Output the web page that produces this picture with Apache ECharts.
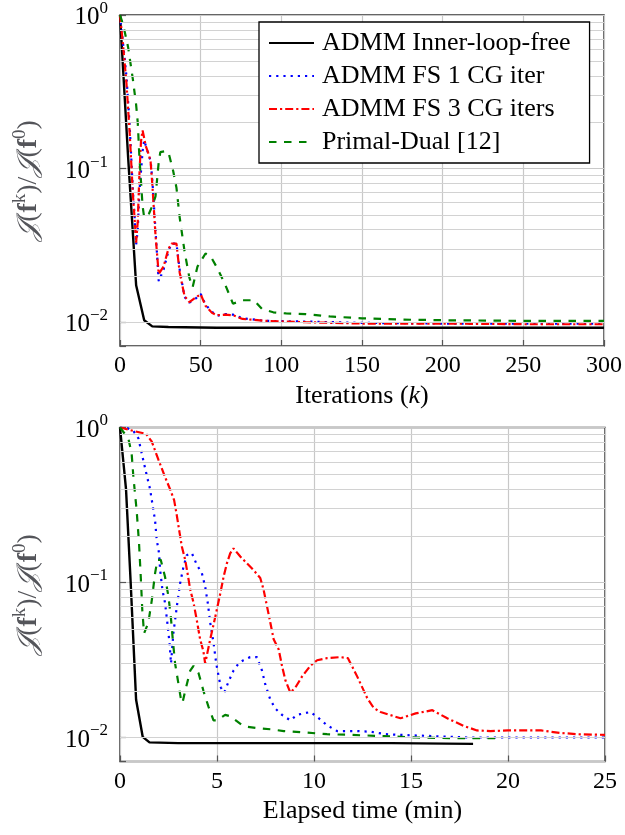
<!DOCTYPE html>
<html>
<head>
<meta charset="utf-8">
<script src="https://cdn.jsdelivr.net/npm/echarts@6/dist/echarts.min.js"></script>
<style>
  html, body { margin: 0; padding: 0; background: #fff; }
  #chart { width: 625px; height: 835px; }
</style>
</head>
<body>
<div id="chart"></div>
<script>
// series names
var names = ['ADMM Inner-loop-free', 'ADMM FS 1 CG iter', 'ADMM FS 3 CG iters', 'Primal-Dual [12]'];

// top: cost vs iterations (k)
var topInnerFree = [[0,1],[5,0.12],[10,0.0174],[15,0.0103],[20,0.0094],[30,0.0093],[60,0.0092],[100,0.0092],[150,0.0092],[200,0.0092],[250,0.0092],[300,0.0092]];
var topFs1 = [[0,1],[2,0.64],[4,0.4],[6,0.19],[8,0.071],[9,0.05],[10,0.032],[11,0.04],[12,0.07],[14,0.13],[15,0.153],[17,0.13],[19,0.112],[20,0.085],[22,0.04],[24,0.0185],[25,0.018],[27,0.022],[30,0.029],[32,0.0325],[35,0.0325],[37,0.022],[40,0.0146],[43,0.0134],[47,0.0143],[50,0.0153],[53,0.013],[57,0.0117],[60,0.011],[65,0.0113],[70,0.0112],[76,0.0106],[90,0.0102],[115,0.0101],[150,0.0099],[200,0.0098],[250,0.0098],[300,0.0098]];
var topFs3 = [[0,1],[2,0.62],[4,0.36],[6,0.17],[8,0.068],[9,0.048],[10,0.033],[11,0.045],[12,0.09],[13,0.15],[14,0.177],[16,0.14],[18,0.122],[19,0.11],[20,0.08],[22,0.037],[24,0.0206],[25,0.02],[27,0.023],[30,0.03],[32,0.0325],[35,0.0325],[37,0.021],[40,0.0148],[43,0.0135],[47,0.0145],[50,0.0152],[53,0.0128],[57,0.0115],[60,0.0111],[65,0.0112],[70,0.0111],[76,0.0105],[90,0.0102],[115,0.01],[150,0.0098],[200,0.0098],[250,0.0097],[300,0.0097]];
var topPd = [[0,1],[2,0.86],[5,0.62],[8,0.38],[10,0.26],[11,0.2],[12,0.12],[13,0.083],[14,0.057],[15,0.048],[18,0.051],[20,0.057],[22,0.066],[24,0.11],[25,0.128],[28,0.13],[30,0.128],[33,0.096],[35,0.075],[37,0.048],[40,0.029],[43,0.0195],[45,0.0169],[48,0.023],[53,0.028],[56,0.027],[60,0.0228],[65,0.0178],[70,0.0132],[76,0.0139],[83,0.0139],[88,0.0122],[95,0.0116],[103,0.0114],[115,0.0113],[130,0.0109],[150,0.0106],[175,0.0104],[200,0.0103],[250,0.0102],[300,0.0102]];

// bottom: cost vs elapsed time (min)
var botInnerFree = [[0,1],[0.31,0.4],[0.55,0.1],[0.83,0.0175],[1.17,0.0101],[1.52,0.0093],[3,0.0092],[6,0.0092],[10,0.0092],[14,0.0092],[18.2,0.0091]];
var botFs1 = [[0,1],[0.4,0.99],[0.69,0.95],[0.95,0.85],[1.12,0.68],[1.38,0.49],[1.55,0.4],[1.69,0.31],[1.81,0.25],[1.89,0.19],[2.01,0.155],[2.07,0.12],[2.19,0.089],[2.32,0.074],[2.44,0.055],[2.55,0.041],[2.63,0.03],[2.75,0.047],[2.93,0.07],[3.1,0.099],[3.27,0.126],[3.44,0.15],[3.7,0.155],[3.96,0.13],[4.22,0.115],[4.39,0.094],[4.53,0.073],[4.65,0.055],[4.82,0.041],[4.96,0.03],[5.08,0.025],[5.2,0.021],[5.37,0.0195],[5.6,0.023],[5.85,0.027],[6.11,0.03],[6.37,0.0316],[6.71,0.033],[7.06,0.033],[7.32,0.027],[7.49,0.022],[7.75,0.0175],[8.0,0.0154],[8.35,0.014],[8.78,0.0129],[9.13,0.014],[9.81,0.0146],[10.16,0.0136],[10.67,0.012],[11.19,0.011],[12.2,0.011],[12.9,0.0109],[13.7,0.0105],[14.4,0.0104],[15.3,0.0103],[16.2,0.0102],[17.9,0.01],[20,0.01],[25,0.01]];
var botFs3 = [[0,1],[0.69,0.95],[1.34,0.91],[1.64,0.81],[1.98,0.62],[2.32,0.48],[2.58,0.4],[2.79,0.34],[2.93,0.27],[3.07,0.21],[3.19,0.17],[3.36,0.14],[3.48,0.115],[3.62,0.09],[3.79,0.074],[3.96,0.057],[4.13,0.043],[4.3,0.036],[4.39,0.03],[4.65,0.043],[4.91,0.06],[5.17,0.085],[5.34,0.109],[5.51,0.133],[5.68,0.154],[5.85,0.166],[6.2,0.147],[6.54,0.133],[6.89,0.12],[7.23,0.107],[7.4,0.09],[7.58,0.07],[7.75,0.055],[7.92,0.043],[8.18,0.037],[8.35,0.029],[8.52,0.0235],[8.78,0.0195],[9.04,0.021],[9.38,0.0247],[9.81,0.029],[10.16,0.0315],[10.67,0.0325],[11.36,0.033],[11.75,0.0325],[12.23,0.0247],[12.74,0.018],[13.08,0.0155],[13.43,0.0146],[14.46,0.0133],[15.24,0.0143],[16.1,0.015],[16.87,0.0133],[17.7,0.0119],[18.4,0.0111],[19.1,0.011],[20,0.0111],[21,0.0111],[21.7,0.0111],[22.7,0.0107],[23.6,0.0105],[25,0.0104]];
var botPd = [[0,1],[0.43,0.85],[0.6,0.68],[0.69,0.48],[0.86,0.29],[0.98,0.18],[1.07,0.109],[1.15,0.066],[1.24,0.047],[1.46,0.055],[1.64,0.077],[1.81,0.115],[1.93,0.14],[2.1,0.14],[2.32,0.109],[2.5,0.081],[2.62,0.06],[2.72,0.043],[2.84,0.03],[2.98,0.0235],[3.13,0.018],[3.22,0.0167],[3.36,0.02],[3.62,0.027],[3.79,0.029],[4.05,0.026],[4.3,0.02],[4.56,0.0158],[4.82,0.0129],[5.0,0.0129],[5.42,0.014],[5.68,0.0137],[6.37,0.0118],[7.06,0.0115],[7.75,0.0113],[8.44,0.011],[9.47,0.0108],[10.67,0.0105],[11.88,0.0104],[13.6,0.0102],[15.3,0.01],[17,0.0099],[19.5,0.0099]];

// log-axis minor grid values (2..9 x 10^k)
var minorTicks = [0.008,0.009,0.02,0.03,0.04,0.05,0.06,0.07,0.08,0.09,0.2,0.3,0.4,0.5,0.6,0.7,0.8,0.9];

var serif = '"Liberation Serif", "DejaVu Serif", serif';
var colors = ['#000000', '#0000ff', '#ff0000', '#008000'];
var dashes = ['solid', [2.2, 5], [8, 3, 2.2, 3], [7.5, 7.5]];
var widths = [2.4, 2.2, 2.2, 2.2];

function logLabel(v) {
    var e = Math.round(Math.log10(v));
    if (Math.abs(Math.log10(v) - e) > 0.01) return '';
    return '{b|10}{s|' + (e === 0 ? '0' : '\u2212' + (-e)) + '}';
}

var yName = '{j|\uD835\uDCA5}{p|(}{f|f}{s|k}{p|)/}{j|\uD835\uDCA5}{p|(}{f|f}{s|0}{p|)}';
var yNameRich = {
    j: { fontFamily: serif, fontStyle: 'italic', fontSize: 28, lineHeight: 32, verticalAlign: 'bottom' },
    p: { fontFamily: serif, fontSize: 28, lineHeight: 32, verticalAlign: 'bottom' },
    f: { fontFamily: serif, fontWeight: 'bold', fontSize: 28, lineHeight: 32, verticalAlign: 'bottom' },
    s: { fontFamily: serif, fontSize: 19, lineHeight: 19, verticalAlign: 'top' }
};

function makeX(idx, max, step, nameRich) {
    return {
        gridIndex: idx, type: 'value', min: 0, max: max, interval: step,
        name: nameRich, nameLocation: 'middle', nameGap: 37,
        nameTextStyle: { fontFamily: serif, fontSize: 26, color: '#000',
            rich: { t: { fontFamily: serif, fontSize: 26 }, i: { fontFamily: serif, fontSize: 26, fontStyle: 'italic' } } },
        axisLine: { show: false },
        axisTick: { show: true, inside: true, length: 6, lineStyle: { color: '#555', width: 1.2 } },
        axisLabel: { fontFamily: serif, fontSize: 24, color: '#000', margin: 8 },
        splitLine: { show: true, lineStyle: { color: '#c8c8c8', width: 1.2 } }
    };
}

function makeY(idx) {
    return {
        gridIndex: idx, type: 'log', logBase: 10, min: 0.007, max: 1,
        name: yName, nameLocation: 'middle', nameRotate: 90, nameGap: 77,
        nameTextStyle: { rich: yNameRich },
        axisLine: { show: false },
        axisTick: { show: true, inside: true, length: 6, lineStyle: { color: '#555', width: 1.2 } },
        axisLabel: {
            margin: 12, formatter: logLabel,
            rich: {
                b: { fontFamily: serif, fontSize: 25, color: '#000', lineHeight: 30, verticalAlign: 'bottom' },
                s: { fontFamily: serif, fontSize: 17, color: '#000', lineHeight: 17, verticalAlign: 'top' }
            }
        },
        splitLine: { show: true, lineStyle: { color: '#c8c8c8', width: 1.2 } }
    };
}

function lines(idx, sets) {
    var out = [{
        type: 'line', data: [], xAxisIndex: idx, yAxisIndex: idx, z: 1, silent: true,
        markLine: {
            silent: true, symbol: ['none', 'none'], label: { show: false },
            lineStyle: { color: '#d2d2d2', type: 'solid', width: 1.2 },
            data: minorTicks.map(function (v) { return { yAxis: v }; })
        }
    }];
    for (var i = 0; i < sets.length; i++) {
        out.push({
            name: names[i], type: 'line', data: sets[i],
            xAxisIndex: idx, yAxisIndex: idx, z: 2,
            symbol: 'none', smooth: false,
            lineStyle: { color: colors[i], width: widths[i], type: dashes[i] },
            itemStyle: { color: colors[i] }
        });
    }
    return out;
}

var chart = echarts.init(document.getElementById('chart'));
var option = {
    animation: false,
    backgroundColor: '#fff',
    legend: {
        data: names, orient: 'vertical', left: 259, top: 22, z: 20,
        padding: [8, 19, 8, 9], itemGap: 7, itemWidth: 45, itemHeight: 14,
        backgroundColor: '#fff', borderColor: '#000', borderWidth: 1.3, borderRadius: 0,
        itemStyle: { opacity: 0 },
        textStyle: { fontFamily: serif, fontSize: 26, color: '#000', lineHeight: 26, padding: [0, 0, 0, 3] }
    },
    grid: [
        { left: 120, top: 12, width: 485, height: 334, show: true, borderColor: '#333', borderWidth: 1.5, backgroundColor: '#fff' },
        { left: 120, top: 427.5, width: 485, height: 334, show: true, borderColor: '#333', borderWidth: 1.5, backgroundColor: '#fff' }
    ],
    xAxis: [
        makeX(0, 300, 50, '{t|Iterations (}{i|k}{t|)}'),
        makeX(1, 25, 5, 'Elapsed time (min)')
    ],
    yAxis: [makeY(0), makeY(1)],
    series: lines(0, [topInnerFree, topFs1, topFs3, topPd]).concat(
        lines(1, [botInnerFree, botFs1, botFs3, botPd]))
};
chart.setOption(option);
</script>
</body>
</html>
